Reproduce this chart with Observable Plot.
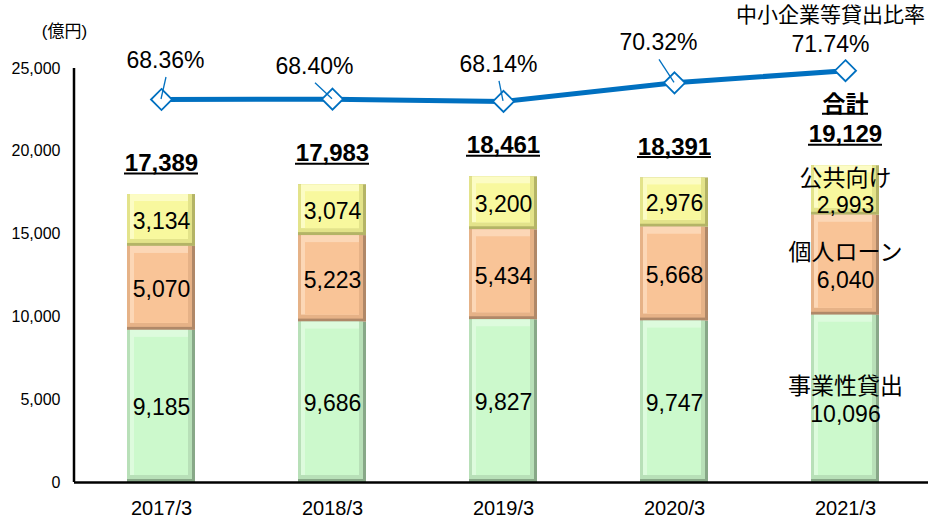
<!DOCTYPE html>
<html>
<head>
<meta charset="utf-8">
<script src="https://cdn.jsdelivr.net/npm/d3@7"></script>
<script src="https://cdn.jsdelivr.net/npm/@observablehq/plot@0.6"></script>
<style>
  body { margin: 0; background: #fff; }
</style>
</head>
<body>
<div id="chart"></div>
<script>
// ---- data ----
const years = ["2017/3", "2018/3", "2019/3", "2020/3", "2021/3"];
const business = [9185, 9686, 9827, 9747, 10096];      // 事業性貸出
const personal = [5070, 5223, 5434, 5668, 6040];       // 個人ローン
const publicSector = [3134, 3074, 3200, 2976, 2993];   // 公共向け
const totals = [17389, 17983, 18461, 18391, 19129];
const smeRatio = [68.36, 68.40, 68.14, 70.32, 71.74];  // 中小企業等貸出比率 (%)
const seriesNames = ["事業性貸出", "個人ローン", "公共向け"];
const yTicks = [0, 5000, 10000, 15000, 20000, 25000];
const unitLabel = "(億円)";
const ratioLabel = "中小企業等貸出比率";
const totalLabel = "合計";

// ---- styles ----
const FONT = "'Liberation Sans', Arial, 'Noto Sans CJK JP', sans-serif";
const seriesStyle = {
  "事業性貸出": {main: "#CCF9CC", light: "#DDFBDD", side: "#B8E0B8", dark: "#88A888"},
  "個人ローン": {main: "#F9C497", light: "#FCD7B6", side: "#E6B287", dark: "#B08868"},
  "公共向け": {main: "#F8F89E", light: "#FCFCC4", side: "#E3E38A", dark: "#B4B466"}
};
const lineColor = "#0070C0";
const bevel = 7;
// per-label nudges for the ratio labels [dx, dy] and whether a leader line is drawn
const ratioNudge = [[4, -39], [-18, -33], [-5, -37], [-16, -40], [-15, -26]];
const ratioLeader = [true, true, true, true, false];

// secondary axis: ratio (%) mapped onto the primary y domain
const ratioAxis = d3.scaleLinear().domain([23.4, 72]).range([0, 25000]);

// ---- build stacked rows ----
const seriesValues = [business, personal, publicSector];
const fmt = d3.format(",");
const rows = [];
years.forEach((yr, i) => {
  let cum = 0;
  seriesNames.forEach((name, s) => {
    const v = seriesValues[s][i];
    const last = i === years.length - 1;
    rows.push({
      year: yr, series: name, value: v,
      y1: cum, y2: cum + v, mid: cum + v / 2,
      label: last ? `${name}\n${fmt(v)}` : fmt(v)
    });
    cum += v;
  });
});
const totalRows = years.map((yr, i) => ({year: yr, total: totals[i]}));
const ratioRows = years.map((yr, i) => ({year: yr, ratio: smeRatio[i], yv: ratioAxis(smeRatio[i]), i}));

const yAxisLine = (index, scales, values, dims) => {
  const g = d3.create("svg:g");
  g.append("line")
    .attr("x1", dims.marginLeft).attr("x2", dims.marginLeft)
    .attr("y1", dims.marginTop).attr("y2", dims.height - dims.marginBottom)
    .attr("stroke", "#000").attr("stroke-width", 2.5);
  return g.node();
};

const leaderLines = (index, scales, values, dims) => {
  const g = d3.create("svg:g");
  const bw = scales.x.bandwidth ? scales.x.bandwidth() : 0;
  ratioRows.forEach((d, i) => {
    if (!ratioLeader[i]) return;
    const cx = scales.x(d.year) + bw / 2;
    const cy = scales.y(d.yv);
    g.append("line")
      .attr("x1", cx + ratioNudge[i][0] + 1).attr("y1", cy + ratioNudge[i][1] + 17)
      .attr("x2", cx).attr("y2", cy)
      .attr("stroke", lineColor).attr("stroke-width", 1.3);
  });
  return g.node();
};

const ratioLabelMarks = ratioRows.map((d, i) =>
  Plot.text([d], {
    x: "year", y: "yv", text: r => r.ratio.toFixed(2) + "%",
    dx: ratioNudge[i][0], dy: ratioNudge[i][1], fontSize: 23
  })
);

const chart = Plot.plot({
  width: 928,
  height: 519,
  marginLeft: 74,
  marginRight: -4,
  marginTop: 68,
  marginBottom: 37,
  style: {fontFamily: FONT, fontSize: "15px", color: "#000", background: "#fff", overflow: "visible"},
  x: {domain: years, paddingInner: 0.6, paddingOuter: 0.3, label: null},
  y: {domain: [0, 25000], label: null},
  color: {type: "identity"},
  marks: [
    // bevelled bars: dark frame, lighter top/left edge, flat face
    Plot.barY(rows, {x: "year", y1: "y1", y2: "y2", fill: d => seriesStyle[d.series].dark}),
    Plot.barY(rows, {x: "year", y1: "y1", y2: "y2", fill: d => seriesStyle[d.series].side,
      insetRight: 3, insetBottom: 3}),
    Plot.barY(rows, {x: "year", y1: "y1", y2: "y2", fill: d => seriesStyle[d.series].light,
      insetRight: bevel, insetBottom: bevel, insetLeft: 3}),
    Plot.barY(rows, {x: "year", y1: "y1", y2: "y2", fill: d => seriesStyle[d.series].main,
      insetTop: bevel, insetBottom: bevel, insetLeft: bevel, insetRight: bevel}),
    Plot.text(rows, {x: "year", y: "mid", text: "label", fontSize: 23, lineHeight: 1.2}),
    // totals, underlined
    Plot.text(totalRows, {x: "year", y: "total", text: d => fmt(d.total), dy: -31,
      fontSize: 24, fontWeight: "bold"}),
    Plot.tickY(totalRows, {x: "year", y: "total", dy: -21, insetLeft: -3, insetRight: -3,
      stroke: "#000", strokeWidth: 2}),
    Plot.text(totalRows.slice(-1), {x: "year", y: "total", text: () => totalLabel, dy: -61,
      fontSize: 23, fontWeight: "bold"}),
    Plot.tickY(totalRows.slice(-1), {x: "year", y: "total", dy: -52, insetLeft: 11, insetRight: 11,
      stroke: "#000", strokeWidth: 2}),
    // axes
    Plot.axisY({ticks: yTicks, tickFormat: fmt, tickSize: 0, tickPadding: 14, fontSize: 16, label: null}),
    Plot.axisX({tickSize: 0, tickPadding: 18, fontSize: 20, label: null}),
    Plot.ruleY([0], {stroke: "#000", strokeWidth: 2.5}),
    yAxisLine,
    // ratio line
    Plot.line(ratioRows, {x: "year", y: "yv", stroke: lineColor, strokeWidth: 5}),
    Plot.dot(ratioRows, {x: "year", y: "yv", symbol: "diamond2", r: 9.5, fill: "#fff",
      stroke: lineColor, strokeWidth: 1.8}),
    leaderLines,
    ...ratioLabelMarks,
    Plot.text(ratioRows.slice(-1), {x: "year", y: "yv", text: () => ratioLabel, dx: -15, dy: -55, fontSize: 21}),
    Plot.text([unitLabel], {frameAnchor: "top-left", text: d => d, textAnchor: "middle", lineAnchor: "middle",
      dx: -10, dy: -37, fontSize: 17})
  ]
});

document.getElementById("chart").appendChild(chart);
</script>
</body>
</html>
